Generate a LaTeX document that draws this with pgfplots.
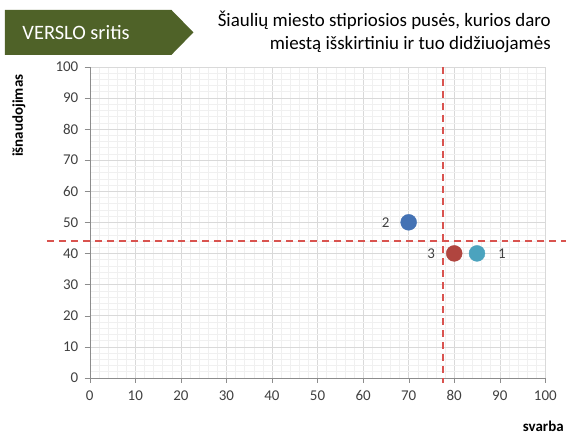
\documentclass[border=0pt]{standalone}
\usepackage{pgfplots}
\pgfplotsset{compat=1.18}
\usepackage{fontspec}
\setmainfont{Carlito}
\definecolor{boxgreen}{HTML}{4F6228}
\definecolor{ptone}{HTML}{4BA3BE}
\definecolor{pttwo}{HTML}{4472B4}
\definecolor{ptthree}{HTML}{B0453F}
\definecolor{cutred}{HTML}{D9534F}
\definecolor{ticktext}{HTML}{404040}

\begin{document}
\begin{tikzpicture}[x=1bp,y=1bp]
\path (0,0) rectangle (567,436);
% title box
\fill[boxgreen] (5,426) -- (172,426) -- (194,403.5) -- (172,381) -- (5,381) -- cycle;
\node[white, font=\fontsize{20.5bp}{22bp}\selectfont, anchor=west] at (19,403) {VERSLO sritis};
\node[anchor=east, align=right, font=\fontsize{19bp}{24bp}\selectfont] at (556,404)
  {Šiaulių miesto stipriosios pusės, kurios daro\\miestą išskirtiniu ir tuo didžiuojamės};
\node[rotate=90, font=\bfseries\fontsize{15bp}{17bp}\selectfont] at (19,320) {išnaudojimas};
\node[font=\bfseries\fontsize{15bp}{17bp}\selectfont] at (545,8) {svarba};

\begin{axis}[
  at={(90bp,57bp)}, anchor=south west,
  scale only axis,
  width=457bp, height=312bp,
  xmin=0, xmax=100, ymin=0, ymax=100,
  xtick={0,10,...,100}, ytick={0,10,...,100},
  minor x tick num=4, minor y tick num=4,
  grid=both,
  major grid style={draw=black!15},
  minor grid style={draw=black!6},
  axis line style={draw=black!45},
  tick style={draw=black!45},
  major tick length=5bp,
  minor tick length=0pt,
  tick align=outside,
  axis x line*=bottom, axis y line*=left,
  ticklabel style={font=\fontsize{15bp}{17bp}\selectfont, text=ticktext},
  xticklabel style={yshift=-4bp},
  yticklabel style={xshift=-3bp},
  /pgf/number format/assume math mode=true,
  clip=false,
  nodes near coords style={font=\fontsize{15bp}{17bp}\selectfont, text=ticktext},
]
\addplot[color=cutred, line width=1.6bp, dash pattern=on 7bp off 5bp] coordinates {(-9.4,44) (104.5,44)};
\addplot[color=cutred, line width=1.6bp, dash pattern=on 7bp off 5bp] coordinates {(77.5,100) (77.5,-1.8)};
\addplot[only marks, mark=*, mark size=8bp, mark options={fill=pttwo, draw=pttwo},
  nodes near coords={2}, nodes near coords style={anchor=center, xshift=-23bp, yshift=0bp}]
  coordinates {(70,50)};
\addplot[only marks, mark=*, mark size=8bp, mark options={fill=ptthree, draw=ptthree},
  nodes near coords={3}, nodes near coords style={anchor=center, xshift=-23bp, yshift=0bp}]
  coordinates {(80,40)};
\addplot[only marks, mark=*, mark size=8bp, mark options={fill=ptone, draw=ptone},
  nodes near coords={1}, nodes near coords style={anchor=center, xshift=25bp, yshift=0bp}]
  coordinates {(85,40)};
\end{axis}
\end{tikzpicture}
\end{document}
